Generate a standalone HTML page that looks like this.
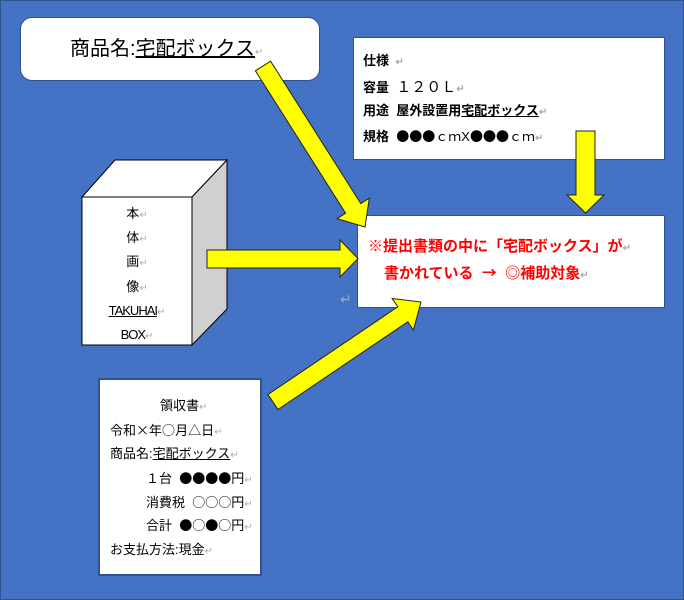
<!DOCTYPE html>
<html><head><meta charset="utf-8"><style>
body{margin:0;width:684px;height:600px;overflow:hidden;font-family:"Liberation Sans","Noto Sans CJK JP",sans-serif;}
.bg{position:absolute;left:0;top:0;width:682px;height:598px;background:#4472C4;border:1px solid #2F528F;}
.t{position:absolute;white-space:nowrap;color:#000;line-height:18px;}
.u{text-decoration:underline;}
.r{color:#aaa;font-size:10px;}
.j{font-family:"Noto Sans CJK JP",sans-serif;}
.c{position:absolute;left:82px;width:110px;text-align:center;font-size:13px;line-height:18px;}
</style></head><body>
<div class="bg"></div>
<div style="position:absolute;left:20px;top:17px;width:298px;height:62px;background:#fff;border-radius:12px;border:1px solid #2F528F;"></div>
<div class="t" style="left:70px;top:37px;font-size:20px;line-height:24px;">商品名:<span class="u">宅配ボックス</span><span class="r">↵</span></div>
<div style="position:absolute;left:353px;top:37px;width:312px;height:123px;background:#fff;border:1px solid #2F528F;box-sizing:border-box;"></div>
<div class="t" style="left:363px;top:52px;font-size:13px;font-weight:bold;">仕様 <span class="r">&nbsp;↵</span></div>
<div class="t" style="left:363px;top:78px;font-size:13px;font-weight:bold;">容量 &nbsp;<span class="j" style="font-weight:normal;font-size:15px;">１２０Ｌ</span><span class="r">↵</span></div>
<div class="t" style="left:363px;top:102px;font-size:13px;font-weight:bold;">用途 &nbsp;屋外設置用<span class="u">宅配ボックス</span><span class="r">↵</span></div>
<div class="t" style="left:363px;top:127px;font-size:13px;font-weight:bold;">規格 &nbsp;<span class="j">●●●</span><span class="j" style="font-weight:normal;">ｃｍ</span><span style="font-weight:normal">X</span><span class="j">●●●</span><span class="j" style="font-weight:normal;">ｃｍ</span><span class="r">↵</span></div>
<div style="position:absolute;left:357px;top:215px;width:308px;height:93px;background:#fff;border:1px solid #2F528F;box-sizing:border-box;"></div>
<div class="t" style="left:368px;top:238px;font-size:15px;font-weight:bold;color:#f00;">※提出書類の中に「宅配ボックス」が<span class="r">↵</span></div>
<div class="t" style="left:384px;top:264px;font-size:15px;font-weight:bold;color:#f00;">書かれている &nbsp;<span class="j">→</span> &nbsp;◎補助対象<span class="r">↵</span></div>
<div class="t" style="left:340px;top:290px;font-size:14px;color:#aaa;">↵</div>
<svg style="position:absolute;left:0;top:0" width="684" height="600">
<polygon points="82,197 115,160 227,160 192,197" fill="#fff" stroke="#000" stroke-width="1"/>
<polygon points="192,197 227,160 227,309 192,345" fill="#d0d0d0" stroke="#000" stroke-width="1"/>
<rect x="82" y="197" width="110" height="148" fill="#fff" stroke="#000" stroke-width="1"/>
<g fill="#ffff00" stroke="#222" stroke-width="1">
<polygon points="255.4,70.8 270.6,61.2 360.8,203.6 369.3,198.2 365,227 337.1,218.6 345.6,213.2"/>
<polygon points="207,250 340,250 340,240 358,258.5 340,277 340,268 207,268"/>
<polygon points="576,131 595,131 595,195 604,195 585.5,213 567,195 576,195"/>
<polygon points="268,394.5 397.8,306.8 392.2,298.5 421,302 413.4,330.1 407.8,321.8 278,409.5"/>
</g>
</svg>
<div class="c" style="top:205px;">本<span class="r">↵</span></div>
<div class="c" style="top:229px;">体<span class="r">↵</span></div>
<div class="c" style="top:253px;">画<span class="r">↵</span></div>
<div class="c" style="top:278px;">像<span class="r">↵</span></div>
<div class="c" style="top:302px;"><span class="u" style="letter-spacing:-1px">TAKUHAI</span><span class="r">↵</span></div>
<div class="c" style="top:326px;"><span style="letter-spacing:-1px">BOX</span><span class="r">↵</span></div>
<div style="position:absolute;left:98px;top:378px;width:164px;height:198px;background:#fff;border:2px solid #2F528F;box-sizing:border-box;"></div>
<div class="t" style="left:160px;top:397px;font-size:13px;">領収書<span class="r">↵</span></div>
<div class="t" style="left:110px;top:421px;font-size:13px;">令和<span class="j">×</span>年<span class="j">○</span>月<span class="j">△</span>日<span class="r">↵</span></div>
<div class="t" style="left:110px;top:445px;font-size:13px;">商品名:<span class="u">宅配ボックス</span><span class="r">↵</span></div>
<div class="t" style="left:146px;top:469px;font-size:13px;"><span class="j">１</span>台 &nbsp;<span class="j">●●●●</span>円<span class="r">↵</span></div>
<div class="t" style="left:146px;top:493px;font-size:13px;">消費税 &nbsp;<span class="j">○○○</span>円<span class="r">↵</span></div>
<div class="t" style="left:146px;top:516px;font-size:13px;">合計 &nbsp;<span class="j">●○●○</span>円<span class="r">↵</span></div>
<div class="t" style="left:110px;top:541px;font-size:13px;">お支払方法:現金<span class="r">↵</span></div>
</body></html>
